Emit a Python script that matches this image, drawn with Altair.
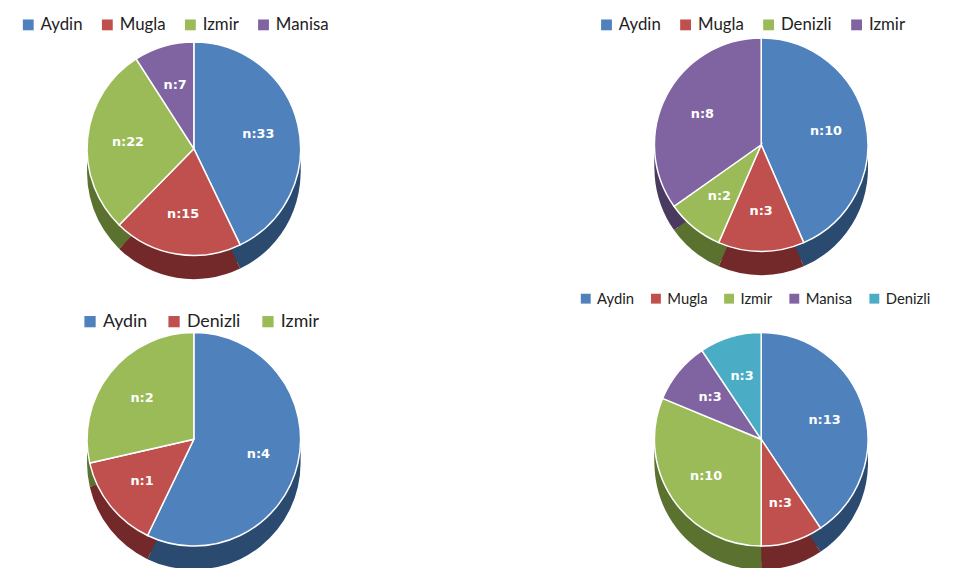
import altair as alt
import pandas as pd

# ---- data ----
p1_cities = ["Aydin", "Mugla", "Izmir", "Manisa"]
p1_values = [33, 15, 22, 7]

p2_cities = ["Aydin", "Mugla", "Denizli", "Izmir"]
p2_values = [10, 3, 2, 8]

p3_cities = ["Aydin", "Denizli", "Izmir"]
p3_values = [4, 1, 2]

p4_cities = ["Aydin", "Mugla", "Izmir", "Manisa", "Denizli"]
p4_values = [13, 3, 10, 3, 3]

palette = ["#4F81BD", "#C0504D", "#9BBB59", "#8064A2", "#4BACC6"]
dark = ["#2B4A70", "#73292A", "#5A712F", "#4A3A60", "#26687A"]

R = 108
W = 370


def pie(cities, values, h, cx, cy, lx, ly, fsize, sym, pad):
    n = len(cities)
    df = pd.DataFrame({
        "city": cities,
        "n": values,
        "ord": list(range(n)),
        "label": [f"n:{v}" for v in values],
        "dark": dark[:n],
    })
    base = alt.Chart(df).encode(
        theta=alt.Theta("n:Q", stack=True),
        order=alt.Order("ord:Q"),
        x=alt.value(cx),
        y=alt.value(cy),
    )
    sides = [
        base.mark_arc(outerRadius=R, yOffset=off).encode(
            color=alt.Color("dark:N", scale=None)
        )
        for off in (8, 16, 24)
    ]
    top = base.mark_arc(outerRadius=R, stroke="white", strokeWidth=1.5).encode(
        color=alt.Color(
            "city:N",
            sort=cities,
            scale=alt.Scale(domain=cities, range=palette[:n]),
            legend=alt.Legend(
                title=None,
                orient="none",
                legendX=lx,
                legendY=ly,
                direction="horizontal",
                symbolType="square",
                symbolSize=sym,
                symbolStrokeWidth=0,
                labelFont="Lato",
                labelFontSize=fsize,
                labelColor="#222222",
                columnPadding=pad,
                symbolOpacity=1,
            ),
        )
    )
    text = base.mark_text(
        radius=R * 0.62, fontWeight="bold", fontSize=13, color="white", font="DejaVu Sans"
    ).encode(text="label:N")
    return alt.layer(*sides, top, text).properties(width=W, height=h)


c1 = pie(p1_cities, p1_values, 265, 183, 134, 7, 0, 17, 120, 16)
c2 = pie(p2_cities, p2_values, 265, 185, 130, 20, 0, 17, 120, 16)
c3 = pie(p3_cities, p3_values, 273, 183, 150, 69, 22, 18, 130, 18)
c4 = pie(p4_cities, p4_values, 273, 185, 150, 0, 0, 15, 100, 14)

row1 = alt.hconcat(c1, c2, spacing=202).resolve_scale(color="independent").resolve_legend(color="independent")
row2 = alt.hconcat(c3, c4, spacing=202).resolve_scale(color="independent").resolve_legend(color="independent")

chart = alt.vconcat(row1, row2, spacing=12).resolve_scale(
    color="independent"
).resolve_legend(color="independent").configure_view(
    strokeWidth=0, stroke="transparent"
)

chart.save("out.html", embed_options={"renderer": "svg", "actions": False})
